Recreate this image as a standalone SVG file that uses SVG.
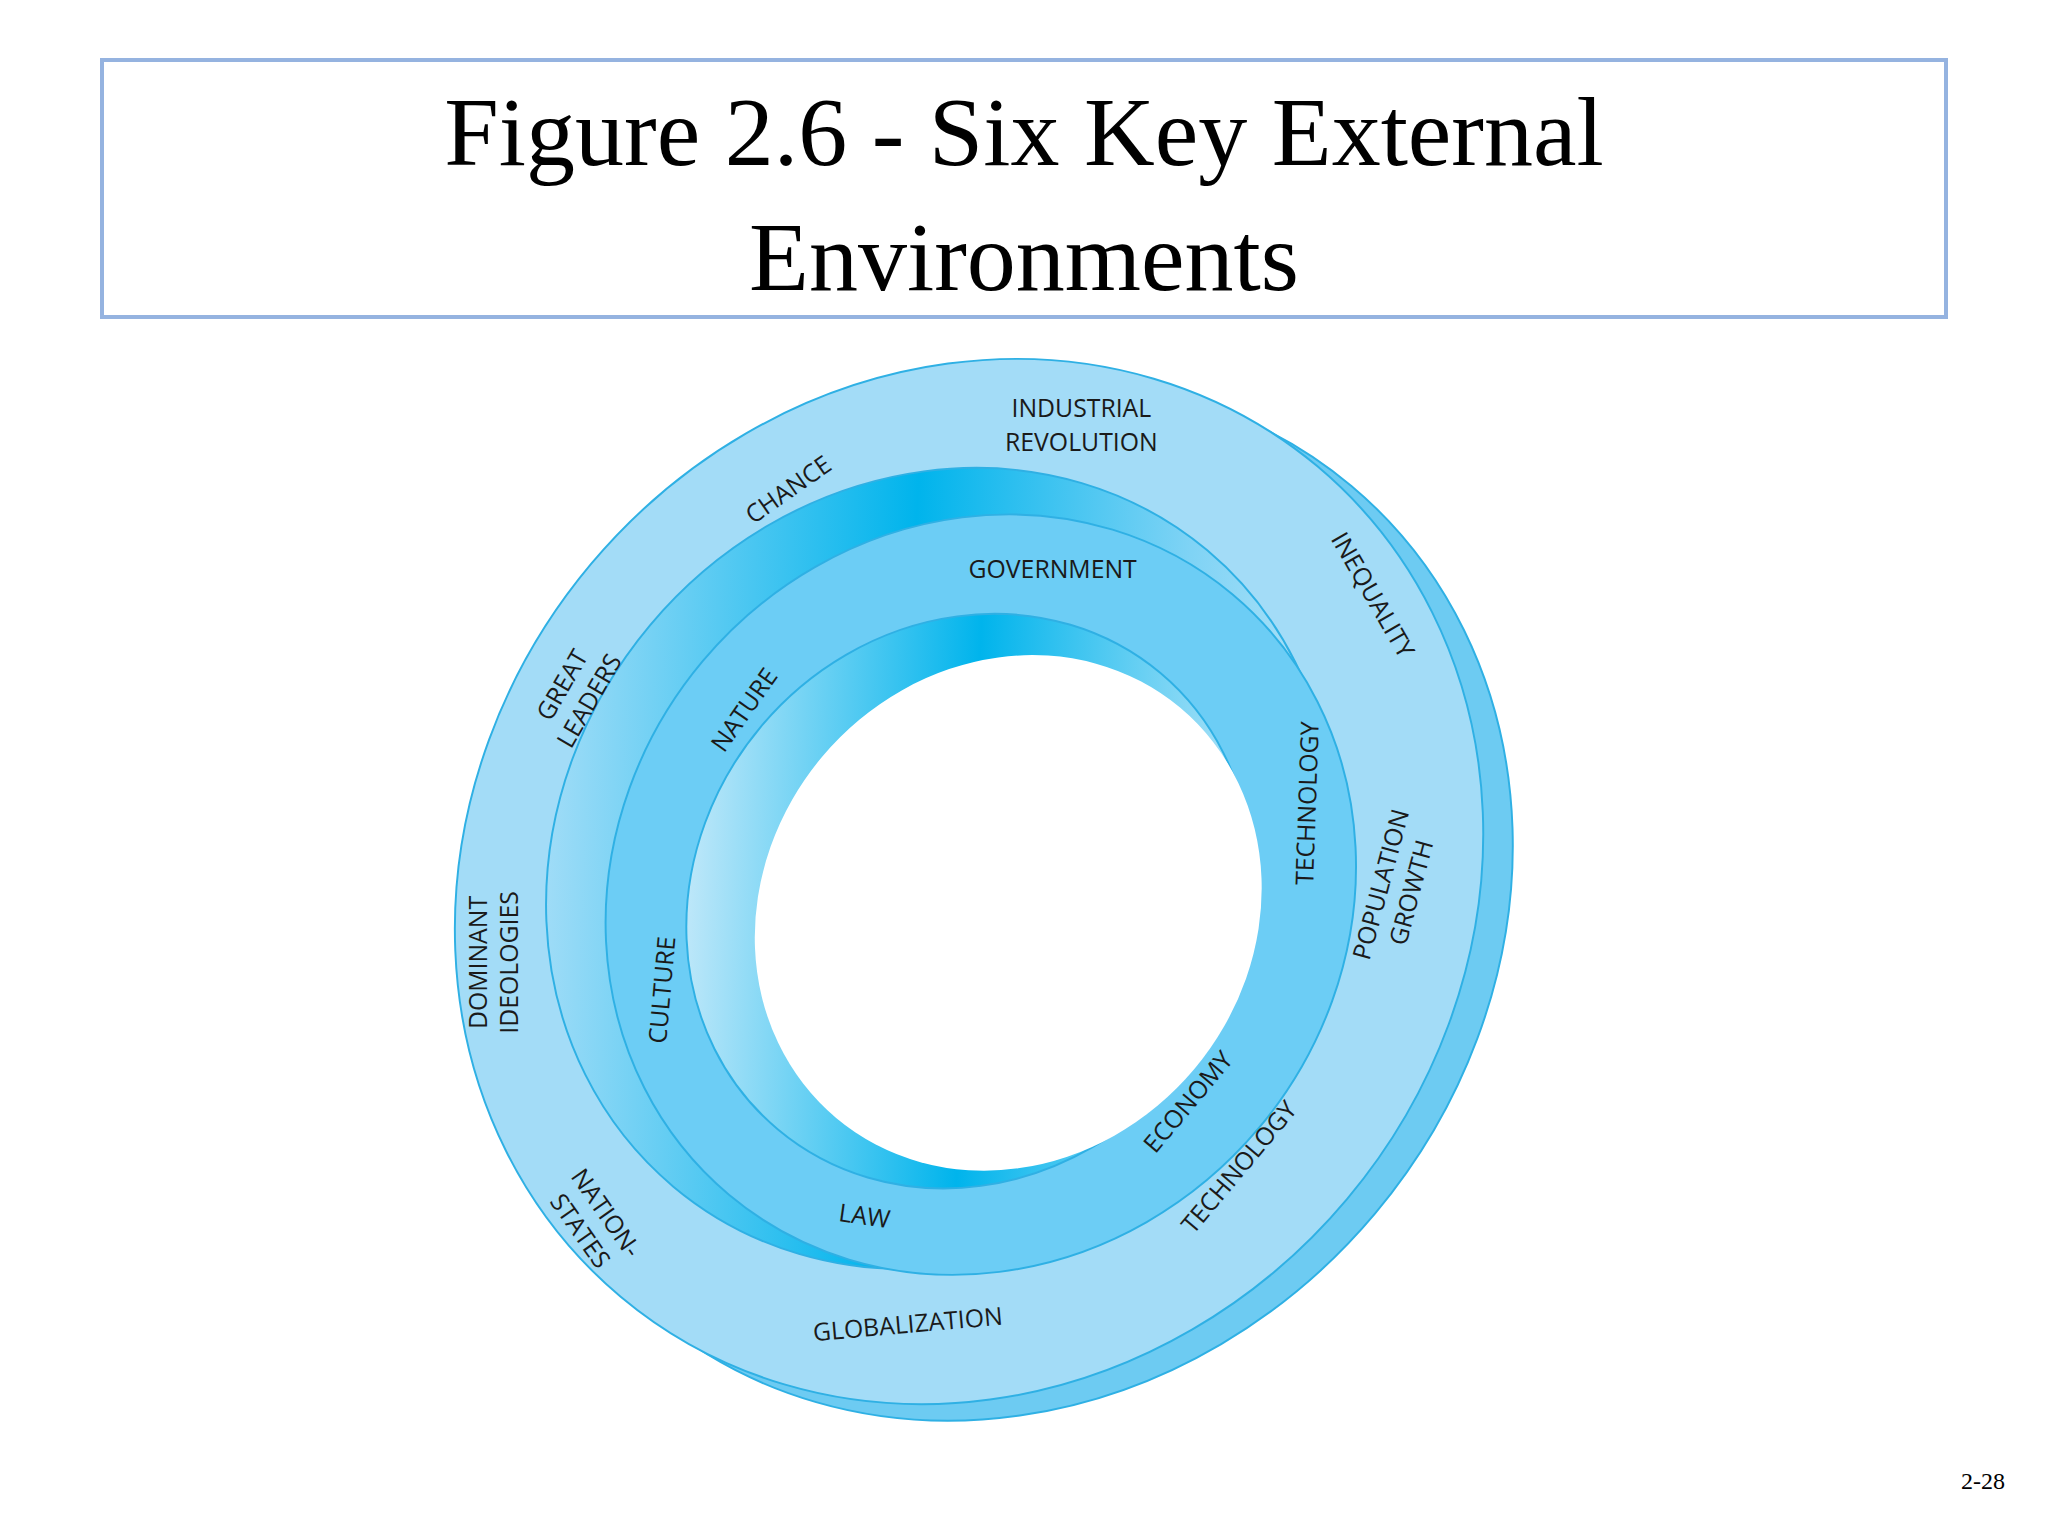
<svg xmlns="http://www.w3.org/2000/svg" width="2048" height="1536" viewBox="0 0 2048 1536">
<style>
.t{font-family:"Liberation Serif",serif;font-size:98px;fill:#000;text-anchor:middle}
.l{font-family:"Open Sans","DejaVu Sans",sans-serif;font-size:19px;fill:#1a1a1a;text-anchor:middle;dominant-baseline:central}
</style>
<defs>
<linearGradient id="wa" x1="0" y1="0" x2="1" y2="0" gradientTransform="rotate(50 0.5 0.5)">
<stop offset="0" stop-color="#9fdcf7"/><stop offset="0.45" stop-color="#00b4ec"/><stop offset="0.8" stop-color="#7fd3f5"/><stop offset="1" stop-color="#b5e4f8"/>
</linearGradient>
<linearGradient id="wc" x1="0" y1="0" x2="1" y2="0" gradientTransform="rotate(50 0.5 0.5)">
<stop offset="0" stop-color="#bde7f9"/><stop offset="0.5" stop-color="#00b4ec"/><stop offset="1" stop-color="#b5e4f8"/>
</linearGradient>
</defs>
<rect width="2048" height="1536" fill="#fff"/>
<g id="title">
<rect x="102" y="60" width="1844" height="257" fill="none" stroke="#95b3e0" stroke-width="4"/>
<text class="t" x="1024" y="165">Figure 2.6 - Six Key External</text>
<text class="t" x="1024" y="290">Environments</text>
</g>
<g transform="scale(1.306)">
<g id="ring" stroke="#2fb0e4" stroke-width="1.5">
<ellipse cx="0" cy="0" rx="415" ry="372" fill="#6dcbf2" transform="translate(768,690) rotate(-50)"/>
<ellipse cx="0" cy="0" rx="415" ry="378" fill="#a3dcf7" transform="translate(742,675) rotate(-50)"/>
<ellipse cx="0" cy="0" rx="318" ry="290" fill="url(#wa)" transform="translate(720,665) rotate(-50)"/>
<ellipse cx="0" cy="0" rx="300" ry="278" fill="#6ccdf5" transform="translate(751,685) rotate(-50)"/>
<ellipse cx="0" cy="0" rx="228" ry="208" fill="url(#wc)" transform="translate(742,690) rotate(-50)"/>
<ellipse cx="0" cy="0" rx="205" ry="186" fill="#fff" stroke="none" transform="translate(772,699) rotate(-50)"/>
</g>
<g id="labels">
<text class="l" x="828" y="312">INDUSTRIAL</text>
<text class="l" x="828" y="338">REVOLUTION</text>
<text class="l" transform="translate(603,374) rotate(-35)">CHANCE</text>
<g transform="translate(440,530) rotate(-60)"><text class="l" y="-12">GREAT</text><text class="l" y="12">LEADERS</text></g>
<g transform="translate(377,737) rotate(-90)"><text class="l" y="-12">DOMINANT</text><text class="l" y="12">IDEOLOGIES</text></g>
<g transform="translate(455,935) rotate(55)"><text class="l" y="-12">NATION-</text><text class="l" y="12">STATES</text></g>
<text class="l" transform="translate(695,1013) rotate(-5)">GLOBALIZATION</text>
<text class="l" transform="translate(948,893) rotate(-50)">TECHNOLOGY</text>
<g transform="translate(1068,680) rotate(-75)"><text class="l" y="-12">POPULATION</text><text class="l" y="12">GROWTH</text></g>
<text class="l" transform="translate(1052,455) rotate(60)">INEQUALITY</text>
<text class="l" x="806" y="435">GOVERNMENT</text>
<text class="l" transform="translate(569,543) rotate(-55)">NATURE</text>
<text class="l" transform="translate(506,758) rotate(-85)">CULTURE</text>
<text class="l" transform="translate(662,930) rotate(8)">LAW</text>
<text class="l" transform="translate(909,843) rotate(-50)">ECONOMY</text>
<text class="l" transform="translate(1000,615) rotate(-88)">TECHNOLOGY</text>
</g>
</g>
<text x="1983" y="1489" font-family="Liberation Serif,serif" font-size="24" text-anchor="middle">2-28</text>
</svg>
